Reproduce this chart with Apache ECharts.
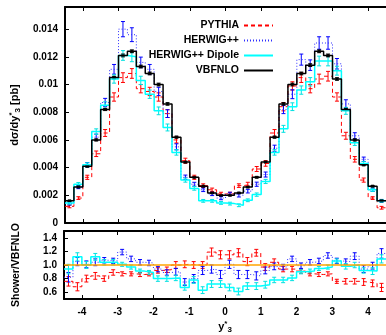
<!DOCTYPE html>
<html>
<head>
<meta charset="utf-8">
<script src="https://cdn.jsdelivr.net/npm/echarts@6/dist/echarts.min.js"></script>
<style>
html, body { margin: 0; padding: 0; background: #fff; }
#chart { width: 386px; height: 335px; }
</style>
</head>
<body>
<div id="chart"></div>
<script>
// bin edges in y*_3 (36 bins)
const binEdges = [-4.5, -4.25, -4, -3.75, -3.5, -3.25, -3, -2.75, -2.5, -2.25, -2, -1.75, -1.5, -1.25, -1, -0.75, -0.5, -0.25,
  0, 0.25, 0.5, 0.75, 1, 1.25, 1.5, 1.75, 2, 2.25, 2.5, 2.75, 3, 3.25, 3.5, 3.75, 4, 4.25, 4.5]

const xTicks = [-4, -3, -2, -1, 0, 1, 2, 3, 4]
const topYTicks = [0, 0.002, 0.004, 0.006, 0.008, 0.01, 0.012, 0.014]
const ratioYTicks = [0.6, 0.8, 1.0, 1.2, 1.4]

// dsigma/dy*_3 [pb]
const vbfnlo = [0.0016, 0.0026, 0.0041, 0.0060, 0.0082, 0.0105, 0.0121, 0.0124, 0.0113, 0.0108, 0.0100, 0.0086,
  0.0062, 0.0044, 0.0033, 0.00266, 0.00217, 0.0020, 0.0020, 0.00217, 0.0026, 0.0033, 0.0044, 0.0062,
  0.0086, 0.0100, 0.0108, 0.0114, 0.0124, 0.0121, 0.0104, 0.0082, 0.0060, 0.0042, 0.00266, 0.0016]
const pythia = [0.0012, 0.0018, 0.0033, 0.0050, 0.0065, 0.0091, 0.0105, 0.0108, 0.0097, 0.0095, 0.0091, 0.0079,
  0.0060, 0.0045, 0.0033, 0.0027, 0.0024, 0.0021, 0.0021, 0.0027, 0.0028, 0.0039, 0.0043, 0.0065,
  0.0084, 0.0099, 0.0105, 0.0097, 0.0104, 0.0106, 0.0091, 0.0063, 0.0046, 0.0031, 0.0018, 0.0011]
const herwig = [0.0014, 0.0026, 0.0042, 0.0062, 0.0087, 0.0111, 0.0140, 0.0136, 0.0116, 0.0111, 0.0095, 0.0079,
  0.0055, 0.0033, 0.0028, 0.0024, 0.0021, 0.0018, 0.0021, 0.0020, 0.0023, 0.0028, 0.0035, 0.0054,
  0.0082, 0.0093, 0.0118, 0.0114, 0.0130, 0.0130, 0.0115, 0.0086, 0.0063, 0.0046, 0.0024, 0.0016]
const dipole = [0.00145, 0.0028, 0.0042, 0.0066, 0.0085, 0.0104, 0.0121, 0.0120, 0.0103, 0.0093, 0.0081, 0.0069,
  0.0051, 0.0031, 0.0025, 0.0016, 0.0016, 0.00145, 0.0014, 0.00128, 0.00164, 0.00205, 0.0030, 0.0051,
  0.0068, 0.0084, 0.0096, 0.0102, 0.0117, 0.0117, 0.0110, 0.0081, 0.0058, 0.0043, 0.0024, 0.0016]

const vbfnloErr = [0.00004, 0.00005, 0.00006, 0.00007, 0.00008, 0.00009, 0.0001, 0.0001, 0.0001, 0.0001, 0.0001, 0.00009,
  0.00007, 0.00006, 0.00005, 0.00005, 0.00004, 0.00004, 0.00004, 0.00004, 0.00005, 0.00005, 0.00006, 0.00007,
  0.00009, 0.0001, 0.0001, 0.0001, 0.0001, 0.0001, 0.00009, 0.00008, 0.00007, 0.00006, 0.00005, 0.00004]
const pythiaErr = [0.0001, 0.0001, 0.00015, 0.0002, 0.00025, 0.0003, 0.00035, 0.00035, 0.0003, 0.0003, 0.0003, 0.00028,
  0.00022, 0.00018, 0.00015, 0.00013, 0.00012, 0.00012, 0.00012, 0.00013, 0.00014, 0.00018, 0.0002, 0.00025,
  0.0003, 0.0003, 0.00035, 0.0003, 0.00035, 0.00035, 0.0003, 0.00025, 0.0002, 0.00015, 0.0001, 0.0001]
const herwigErr = [0.0001, 0.00012, 0.00016, 0.00022, 0.0003, 0.00035, 0.00055, 0.0005, 0.00038, 0.00035, 0.0003, 0.00028,
  0.00022, 0.00016, 0.00014, 0.00013, 0.00012, 0.00012, 0.00012, 0.00012, 0.00013, 0.00015, 0.00018, 0.00022,
  0.0003, 0.00032, 0.0004, 0.00038, 0.00045, 0.00045, 0.00038, 0.0003, 0.00022, 0.00016, 0.00012, 0.0001]
const dipoleErr = [0.0001, 0.00012, 0.00015, 0.0002, 0.00025, 0.0003, 0.00035, 0.00035, 0.0003, 0.0003, 0.00028, 0.00025,
  0.0002, 0.00015, 0.00013, 0.0001, 0.0001, 0.0001, 0.0001, 0.0001, 0.0001, 0.00012, 0.00015, 0.0002,
  0.00025, 0.00028, 0.0003, 0.0003, 0.00035, 0.00035, 0.00032, 0.00025, 0.0002, 0.00015, 0.00012, 0.0001]

// Shower/VBFNLO
const pythiaRatio = [0.76, 0.68, 0.80, 0.84, 0.80, 0.89, 0.87, 0.87, 0.86, 0.87, 0.92, 0.93, 1.00, 1.01, 1.00, 1.00,
  1.19, 1.15, 1.15, 1.18, 1.05, 1.18, 0.97, 1.04, 0.94, 0.94, 0.91, 0.87, 0.86, 0.87, 0.76, 0.76, 0.76, 0.75, 0.73, 0.67]
const herwigRatio = [0.82, 1.05, 1.01, 1.04, 1.07, 1.06, 1.19, 1.09, 1.04, 1.03, 0.94, 0.89, 0.90, 0.75, 0.80, 0.92,
  0.94, 0.86, 1.01, 0.86, 0.86, 0.84, 0.92, 0.98, 0.97, 1.09, 0.99, 1.04, 1.06, 1.14, 1.06, 1.05, 1.13, 0.94, 0.99, 1.17]
const dipoleRatio = [0.94, 1.12, 1.00, 1.12, 1.04, 1.04, 1.01, 0.97, 0.91, 0.89, 0.80, 0.80, 0.81, 0.67, 0.78, 0.63,
  0.72, 0.72, 0.67, 0.61, 0.69, 0.69, 0.71, 0.78, 0.78, 0.81, 0.90, 0.91, 0.95, 0.97, 1.06, 0.98, 1.00, 0.92, 0.91, 1.09]
const pythiaRatioErr = [0.07, 0.06, 0.05, 0.05, 0.04, 0.04, 0.03, 0.03, 0.03, 0.03, 0.04, 0.04, 0.05, 0.05, 0.05, 0.05,
  0.06, 0.06, 0.06, 0.06, 0.06, 0.05, 0.05, 0.05, 0.04, 0.04, 0.03, 0.03, 0.03, 0.03, 0.03, 0.04, 0.04, 0.05, 0.05, 0.06]
const herwigRatioErr = [0.07, 0.06, 0.05, 0.05, 0.04, 0.04, 0.04, 0.04, 0.04, 0.04, 0.04, 0.04, 0.05, 0.05, 0.06, 0.06,
  0.06, 0.06, 0.06, 0.06, 0.06, 0.06, 0.05, 0.05, 0.04, 0.04, 0.04, 0.04, 0.04, 0.04, 0.04, 0.04, 0.05, 0.05, 0.05, 0.07]
const dipoleRatioErr = [0.07, 0.06, 0.05, 0.05, 0.04, 0.04, 0.03, 0.03, 0.03, 0.03, 0.04, 0.04, 0.04, 0.04, 0.05, 0.05,
  0.05, 0.05, 0.05, 0.05, 0.05, 0.05, 0.05, 0.04, 0.04, 0.04, 0.03, 0.03, 0.03, 0.03, 0.03, 0.04, 0.04, 0.04, 0.05, 0.06]

const FONT = 'Liberation Sans, Arial, Helvetica, sans-serif'
const RED = '#ff0000'
const BLUE = '#0000ff'
const CYAN = '#00ffff'
const BLACK = '#000000'
const ORANGE = '#ffa500'

// step histogram: left edge of each bin, plus the right end of the last bin
const stepData = vals => vals.map((v, i) => [binEdges[i], v]).concat([[binEdges[vals.length], vals[vals.length - 1]]])
const center = i => (binEdges[i] + binEdges[i + 1]) / 2
const errData = (vals, errs) => vals.map((v, i) => [center(i), v - errs[i], v + errs[i]])

const errorBar = (color, cap) => (params, api) => {
  const lo = api.coord([api.value(0), api.value(1)])
  const hi = api.coord([api.value(0), api.value(2)])
  const style = { stroke: color, lineWidth: 1 }
  return {
    type: 'group',
    children: [
      { type: 'line', shape: { x1: lo[0], y1: lo[1], x2: hi[0], y2: hi[1] }, style },
      { type: 'line', shape: { x1: lo[0] - cap, y1: lo[1], x2: lo[0] + cap, y2: lo[1] }, style },
      { type: 'line', shape: { x1: hi[0] - cap, y1: hi[1], x2: hi[0] + cap, y2: hi[1] }, style }
    ]
  }
}

const lineSeries = (name, vals, color, type, width, grid) => ({
  name,
  type: 'line',
  step: 'end',
  xAxisIndex: grid === 0 ? 0 : 2,
  yAxisIndex: grid,
  data: stepData(vals),
  symbol: 'none',
  lineStyle: { color, type, width },
  itemStyle: { color },
  silent: true
})

const errSeries = (name, vals, errs, color, grid) => ({
  name,
  type: 'custom',
  xAxisIndex: grid === 0 ? 0 : 2,
  yAxisIndex: grid,
  data: errData(vals, errs),
  encode: { x: 0, y: [1, 2] },
  renderItem: errorBar(color, 2),
  silent: true
})

const labelStyle = { fontFamily: FONT, fontWeight: 'bold', fontSize: 10, color: '#000' }
const axisLine = { show: true, onZero: false, lineStyle: { color: '#000', width: 2 } }
const tickStyle = { inside: true, length: 4, lineStyle: { color: '#000', width: 1 } }

const xAxisBase = (gridIndex, position, showLabel) => ({
  type: 'value',
  gridIndex,
  position,
  min: -4.5,
  max: 4.5,
  axisLine,
  axisTick: { ...tickStyle, customValues: xTicks },
  axisLabel: { show: showLabel, customValues: xTicks, margin: 8, ...labelStyle },
  splitLine: { show: false }
})

const nameRich = {
  a: { fontFamily: FONT, fontWeight: 'bold', fontSize: 11, color: '#000' },
  sup: { fontFamily: FONT, fontWeight: 'bold', fontSize: 8, color: '#000', padding: [0, 0, 6, 0] },
  sub: { fontFamily: FONT, fontWeight: 'bold', fontSize: 8, color: '#000', padding: [6, 0, 0, 0] }
}

const chart = echarts.init(document.getElementById('chart'), null, { renderer: 'canvas' })

const option = {
  animation: false,
  backgroundColor: '#fff',
  grid: [
    { left: 64, right: -2, top: 7, height: 216 },
    { left: 64, right: -2, top: 231, height: 71 }
  ],
  legend: {
    data: ['PYTHIA', 'HERWIG++', 'HERWIG++ Dipole', 'VBFNLO'],
    orient: 'vertical',
    align: 'right',
    right: 107,
    top: 15,
    itemWidth: 29,
    itemHeight: 10,
    itemGap: 4,
    selectedMode: false,
    // hide the marker drawn in the middle of each legend line
    itemStyle: { opacity: 0 },
    textStyle: { fontFamily: FONT, fontWeight: 'bold', fontSize: 10.5, color: '#000' }
  },
  xAxis: [
    xAxisBase(0, 'bottom', false),
    xAxisBase(0, 'top', false),
    {
      ...xAxisBase(1, 'bottom', true),
      name: '{a|y}{sup|*}{sub|3}',
      nameLocation: 'middle',
      nameGap: 21,
      nameTextStyle: { rich: nameRich }
    },
    xAxisBase(1, 'top', false)
  ],
  yAxis: [
    {
      type: 'value',
      gridIndex: 0,
      min: 0,
      max: 0.0156,
      axisLine,
      axisTick: { ...tickStyle, customValues: topYTicks },
      axisLabel: {
        customValues: topYTicks,
        margin: 7,
        ...labelStyle,
        formatter: v => (v === 0 ? '0' : String(+v.toFixed(3)))
      },
      splitLine: { show: false },
      name: '{a|dσ/dy}{sup|*}{sub|3}{a| [pb]}',
      nameLocation: 'middle',
      nameRotate: 90,
      nameGap: 43,
      nameTextStyle: { rich: nameRich }
    },
    {
      type: 'value',
      gridIndex: 1,
      min: 0.5,
      max: 1.5,
      axisLine,
      axisTick: { ...tickStyle, customValues: ratioYTicks },
      axisLabel: {
        customValues: ratioYTicks,
        margin: 7,
        ...labelStyle,
        formatter: v => v.toFixed(1)
      },
      splitLine: { show: false },
      name: 'Shower/VBFNLO',
      nameLocation: 'middle',
      nameRotate: 90,
      nameGap: 42,
      nameTextStyle: { fontFamily: FONT, fontWeight: 'bold', fontSize: 10.5, color: '#000' }
    }
  ],
  series: [
    // top panel
    lineSeries('PYTHIA', pythia, RED, [4, 3], 1, 0),
    errSeries('PYTHIA err', pythia, pythiaErr, RED, 0),
    lineSeries('HERWIG++', herwig, '#3030ff', [1, 2], 1, 0),
    errSeries('HERWIG++ err', herwig, herwigErr, BLUE, 0),
    lineSeries('HERWIG++ Dipole', dipole, CYAN, 'solid', 1.5, 0),
    errSeries('HERWIG++ Dipole err', dipole, dipoleErr, '#00e0e0', 0),
    lineSeries('VBFNLO', vbfnlo, BLACK, 'solid', 1.5, 0),
    errSeries('VBFNLO err', vbfnlo, vbfnloErr, BLACK, 0),
    {
      name: 'VBFNLO pts',
      type: 'scatter',
      xAxisIndex: 0,
      yAxisIndex: 0,
      data: vbfnlo.map((v, i) => [center(i), v]),
      symbol: 'rect',
      symbolSize: 3,
      itemStyle: { color: BLACK },
      silent: true
    },
    // ratio panel
    {
      ...lineSeries('PYTHIA ratio', pythiaRatio, RED, [4, 3], 1, 1),
      markLine: {
        silent: true,
        symbol: 'none',
        label: { show: false },
        lineStyle: { color: ORANGE, type: 'solid', width: 1.5 },
        data: [{ yAxis: 1 }]
      }
    },
    errSeries('PYTHIA ratio err', pythiaRatio, pythiaRatioErr, RED, 1),
    lineSeries('HERWIG++ ratio', herwigRatio, '#3030ff', [1, 2], 1, 1),
    errSeries('HERWIG++ ratio err', herwigRatio, herwigRatioErr, BLUE, 1),
    lineSeries('HERWIG++ Dipole ratio', dipoleRatio, CYAN, 'solid', 1.5, 1),
    errSeries('HERWIG++ Dipole ratio err', dipoleRatio, dipoleRatioErr, '#00e0e0', 1)
  ]
}

chart.setOption(option)
</script>
</body>
</html>
